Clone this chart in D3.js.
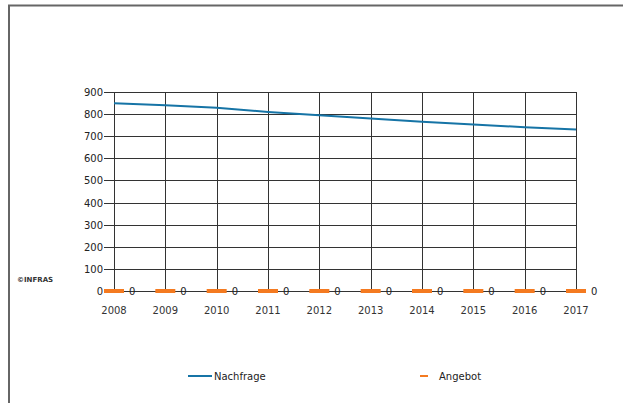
<!DOCTYPE html>
<html>
<head>
<meta charset="utf-8">
<script src="https://cdn.jsdelivr.net/npm/d3@7"></script>
<style>
  body { margin: 0; background: #fff; }
  svg { display: block; }
</style>
</head>
<body>
<svg width="623" height="403"></svg>
<script>
// data
const years = ["2008", "2009", "2010", "2011", "2012", "2013", "2014", "2015", "2016", "2017"];
const nachfrage = [849, 840, 829, 810, 795, 780, 766, 753, 741, 730];
const angebot = [0, 0, 0, 0, 0, 0, 0, 0, 0, 0];
const yTicks = [0, 100, 200, 300, 400, 500, 600, 700, 800, 900];

const svg = d3.select("svg"),
    width = +svg.attr("width"),
    height = +svg.attr("height");

const font = "DejaVu Sans, Verdana, sans-serif";

// outer frame (only top and left visible)
svg.append("path")
    .attr("d", `M9,${height} V5.5 H${width}`)
    .attr("fill", "none")
    .attr("stroke", "#666")
    .attr("stroke-width", 2);

const x = d3.scalePoint().domain(years).range([114, 576]);
const y = d3.scaleLinear().domain([0, 900]).range([291, 92]);

// grid
const grid = svg.append("g").attr("shape-rendering", "crispEdges");
grid.selectAll("line.h")
    .data(yTicks)
    .join("line")
      .attr("class", "h")
      .attr("x1", 104).attr("x2", 576)
      .attr("y1", d => Math.round(y(d)) + 0.5)
      .attr("y2", d => Math.round(y(d)) + 0.5)
      .attr("stroke", "#333");
grid.selectAll("line.v")
    .data(years)
    .join("line")
      .attr("class", "v")
      .attr("y1", y(900)).attr("y2", y(0))
      .attr("x1", d => Math.round(x(d)) + 0.5)
      .attr("x2", d => Math.round(x(d)) + 0.5)
      .attr("stroke", "#333");

// y labels
svg.append("g")
    .selectAll("text")
    .data(yTicks)
    .join("text")
      .attr("x", 103)
      .attr("y", d => y(d) + 4)
      .attr("text-anchor", "end")
      .attr("font-family", font)
      .attr("font-size", 10)
      .attr("fill", "#222")
      .text(d => d);

// x labels
svg.append("g")
    .selectAll("text")
    .data(years)
    .join("text")
      .attr("x", d => x(d))
      .attr("y", 314)
      .attr("text-anchor", "middle")
      .attr("font-family", font)
      .attr("font-size", 10)
      .attr("fill", "#333")
      .text(d => d);

// Nachfrage line
svg.append("path")
    .datum(nachfrage)
    .attr("fill", "none")
    .attr("stroke", "#1674a6")
    .attr("stroke-width", 2)
    .attr("d", d3.line()
        .x((d, i) => x(years[i]))
        .y(d => y(d)));

// Angebot markers
svg.append("g")
    .selectAll("line")
    .data(angebot)
    .join("line")
      .attr("x1", (d, i) => x(years[i]) - 10)
      .attr("x2", (d, i) => x(years[i]) + 10)
      .attr("y1", d => y(d))
      .attr("y2", d => y(d))
      .attr("stroke", "#f47a20")
      .attr("stroke-width", 4);

svg.append("g")
    .selectAll("text")
    .data(angebot)
    .join("text")
      .attr("x", (d, i) => x(years[i]) + 15)
      .attr("y", d => y(d) + 4)
      .attr("font-family", font)
      .attr("font-size", 10)
      .attr("fill", "#222")
      .text(d => d);

// copyright
svg.append("text")
    .attr("x", 17).attr("y", 282)
    .attr("font-family", font)
    .attr("font-size", 7)
    .attr("font-weight", "bold")
    .attr("fill", "#333")
    .text("\u00A9INFRAS");

// legend
const legend = svg.append("g");
legend.append("line")
    .attr("x1", 188).attr("x2", 212)
    .attr("y1", 376).attr("y2", 376)
    .attr("stroke", "#1674a6").attr("stroke-width", 2);
legend.append("text")
    .attr("x", 214).attr("y", 380)
    .attr("font-family", font).attr("font-size", 10).attr("fill", "#222")
    .text("Nachfrage");
legend.append("line")
    .attr("x1", 420).attr("x2", 428)
    .attr("y1", 376).attr("y2", 376)
    .attr("stroke", "#f47a20").attr("stroke-width", 2);
legend.append("text")
    .attr("x", 439).attr("y", 380)
    .attr("font-family", font).attr("font-size", 10).attr("fill", "#222")
    .text("Angebot");
</script>
</body>
</html>
